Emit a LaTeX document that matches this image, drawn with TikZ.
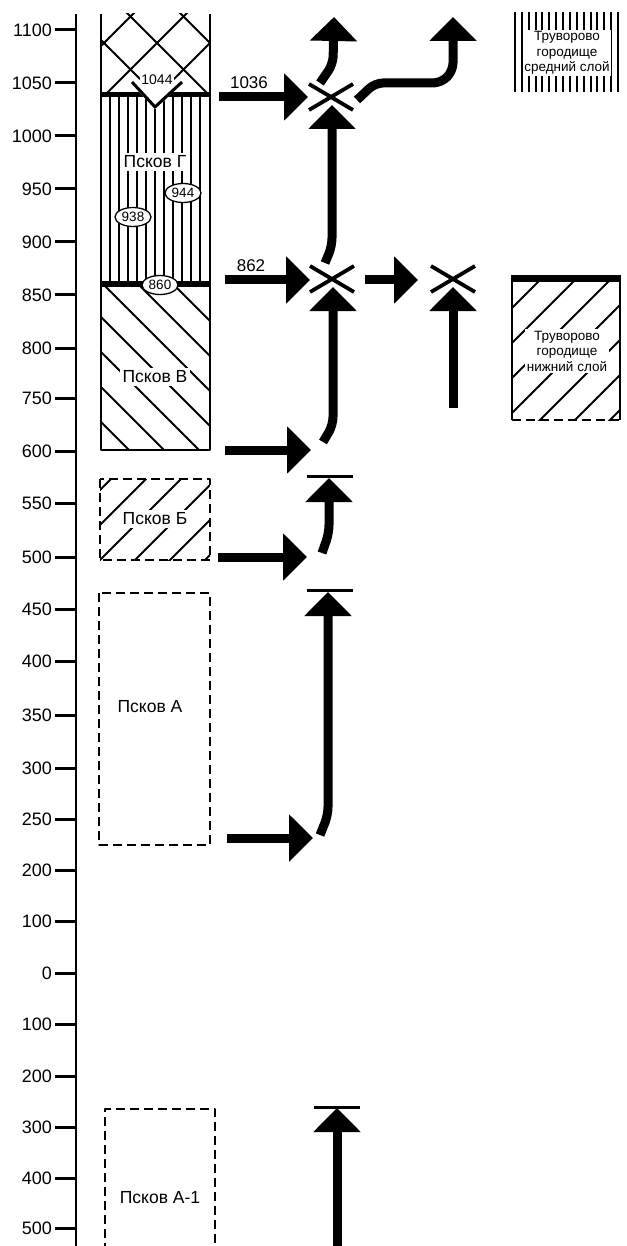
\documentclass[tikz,border=0pt]{standalone}
\usepackage{fontspec}
\setmainfont{Liberation Sans}
\usetikzlibrary{arrows.meta,shapes.geometric}

\begin{document}
\begin{tikzpicture}[x=1pt,y=-1pt,line join=round,
  flow/.style={line width=9pt,rounded corners=8pt,-{Triangle[length=24pt,width=46pt]}},
  stopbar/.style={line width=3pt},
  hatch/.style={line width=2pt},
  layer/.style={line width=2.2pt},
  trial/.style={line width=2.6pt,dash pattern=on 9pt off 5pt},
  tick/.style={font=\fontsize{18}{20}\selectfont,anchor=east,inner sep=0pt},
  num/.style={font=\fontsize{17}{19}\selectfont,inner sep=0pt},
  lbl/.style={font=\fontsize{17.5}{19}\selectfont,fill=white,inner sep=2.5pt},
  year/.style={draw,ellipse,line width=1.3pt,fill=white,inner sep=0pt,
    minimum width=36pt,minimum height=19pt,font=\fontsize{13.5}{15}\selectfont},
  small/.style={font=\fontsize{13.5}{15.5}\selectfont,align=center,fill=white,inner sep=1.5pt}]

\useasboundingbox (0,0) rectangle (626,1246);

% --- age scale ---
\draw[line width=2pt] (76,14) -- (76,1246);
\foreach \lab/\yy in {1100/30,1050/83,1000/136,950/189,900/242,850/295,800/348,750/398,
    600/451,550/503,500/557,450/609,400/661,350/715,300/768,250/819,200/870,
    100/921,0/973,100/1024,200/1076,300/1127,400/1178,500/1228}{
  \draw[line width=3pt] (55,\yy) -- (76,\yy);
  \node[tick] (t\yy) at (52,\yy) {\lab};
}

% --- Pskov column: cross hatch on top ---
\begin{scope}
  \clip (101,14) rectangle (210,96);
  \foreach \c in {41,94,147,200,253,306} \draw[hatch] (0,\c) -- (400,\c-400);
  \foreach \k in {-273,-220,-167,-114,-61,-8,45} \draw[hatch] (0,\k) -- (400,\k+400);
\end{scope}
% vertical stripes (Pskov G)
\foreach \xx in {110,119,...,200} \draw[hatch] (\xx,96) -- (\xx,284);
% slanted lines (Pskov V)
\begin{scope}
  \clip (101,284) rectangle (210,450);
  \foreach \k in {111,146,...,461} \draw[hatch] (0,\k) -- (300,\k+300);
\end{scope}
\draw[layer] (101,14) -- (101,450) -- (210,450) -- (210,14);
\draw[line width=5pt] (101,95) -- (210,95);
\draw[line width=6pt] (101,284) -- (210,284);

% notch 1044
\fill[white] (128,80) -- (155,109) -- (186,80) -- cycle;
\draw[line width=3pt] (132,82) -- (155,107) -- (182,82);
\node[num,font=\fontsize{14}{16}\selectfont,fill=white,inner sep=1pt] (n1044) at (157,80) {1044};

\node[lbl] (pskovG) at (155,162) {Псков Г};
\node[year] (d944) at (183,193) {944};
\node[year] (d938) at (133,217) {938};
\node[year] (d860) at (160,285) {860};
\node[lbl] (pskovV) at (155,377) {Псков В};

% --- Pskov B ---
\begin{scope}
  \clip (100,479) rectangle (210,560);
  \foreach \c in {555,590,...,800} \draw[hatch] (0,\c) -- (400,\c-400);
\end{scope}
\node[lbl] (pskovB) at (155,519) {Псков Б};
\draw[trial] (100,479) rectangle (210,560);

% --- Pskov A and A-1 ---
\draw[trial] (99,593) rectangle (210,845);
\node[lbl] (pskovA) at (150,707) {Псков А};
\draw[trial] (105,1252) -- (105,1109) -- (215,1109) -- (215,1252);
\node[lbl] (pskovA1) at (160,1198) {Псков А-1};

% --- Truvorovo gorodishche ---
\foreach \i in {0,...,15} \draw[line width=2pt] ({515+6.87*\i},12) -- ({515+6.87*\i},92);
\node[small,minimum width=84pt] (trvMid) at (567,53) {Труворово\\городище\\средний слой};

\begin{scope}
  \clip (512,279) rectangle (620,420);
  \foreach \c in {785,820,...,1065} \draw[hatch] (400,\c-400) -- (800,\c-800);
\end{scope}
\draw[line width=7pt] (511,279) -- (621,279);
\draw[layer] (512,279) -- (512,420) (620,279) -- (620,420);
\draw[trial] (512,420) -- (620,420);
\node[small] (trvLow) at (567,351) {Труворово\\городище\\нижний слой};

% --- arrows ---
\coordinate (x1036) at (331,97);
\coordinate (x862) at (332,279);
\coordinate (xr) at (453,279);

\coordinate (s1036) at (219,97);   \coordinate (e1036) at (308,97);
\coordinate (s862) at (225,280);   \coordinate (e862) at (310,280);
\coordinate (s600) at (225,450);   \coordinate (e600) at (311,450);
\coordinate (s500) at (218,557);   \coordinate (e500) at (307,557);
\coordinate (s230) at (227,838);   \coordinate (e230) at (313,838);

\draw[flow] (s1036) -- (e1036);
\draw[flow] (s862) -- (e862);
\draw[flow] (s600) -- (e600);
\draw[flow] (s500) -- (e500);
\draw[flow] (s230) -- (e230);
\node[num,above] (l1036) at (249,89) {1036};
\node[num,above] (l862) at (251,272) {862};

% upward lines
\draw[flow] (320,83) -- (333,64) -- (334,17);
\draw[flow] (357,100) -- (375,83) -- (441,83) -- (453,71) -- (453,17);
\draw[flow] (325,263) -- (332,246) -- (332,105);
\draw[flow] (323,442) -- (333,425) -- (333,287);
\draw[flow] (365,280) -- (418,280);
\draw[flow] (453,408) -- (453,287);
\draw[flow] (322,553) -- (329,533) -- (329,478);
\draw[flow] (320,835) -- (328,815) -- (328,592);
\draw[flow] (337,1252) -- (337,1108);

% stop bars
\draw[stopbar] (307,476) -- (353,476);
\draw[stopbar] (307,590) -- (353,590);
\draw[stopbar] (314,1107) -- (360,1107);

% crossings
\foreach \p in {x1036,x862,xr}{
  \draw[white,line width=9pt]
    ([shift={(-22,-13)}]\p) -- ([shift={(22,13)}]\p)
    ([shift={(-22,13)}]\p) -- ([shift={(22,-13)}]\p);
  \draw[line width=3.8pt]
    ([shift={(-22,-13)}]\p) -- ([shift={(22,13)}]\p)
    ([shift={(-22,13)}]\p) -- ([shift={(22,-13)}]\p);
}

\end{tikzpicture}
\end{document}
